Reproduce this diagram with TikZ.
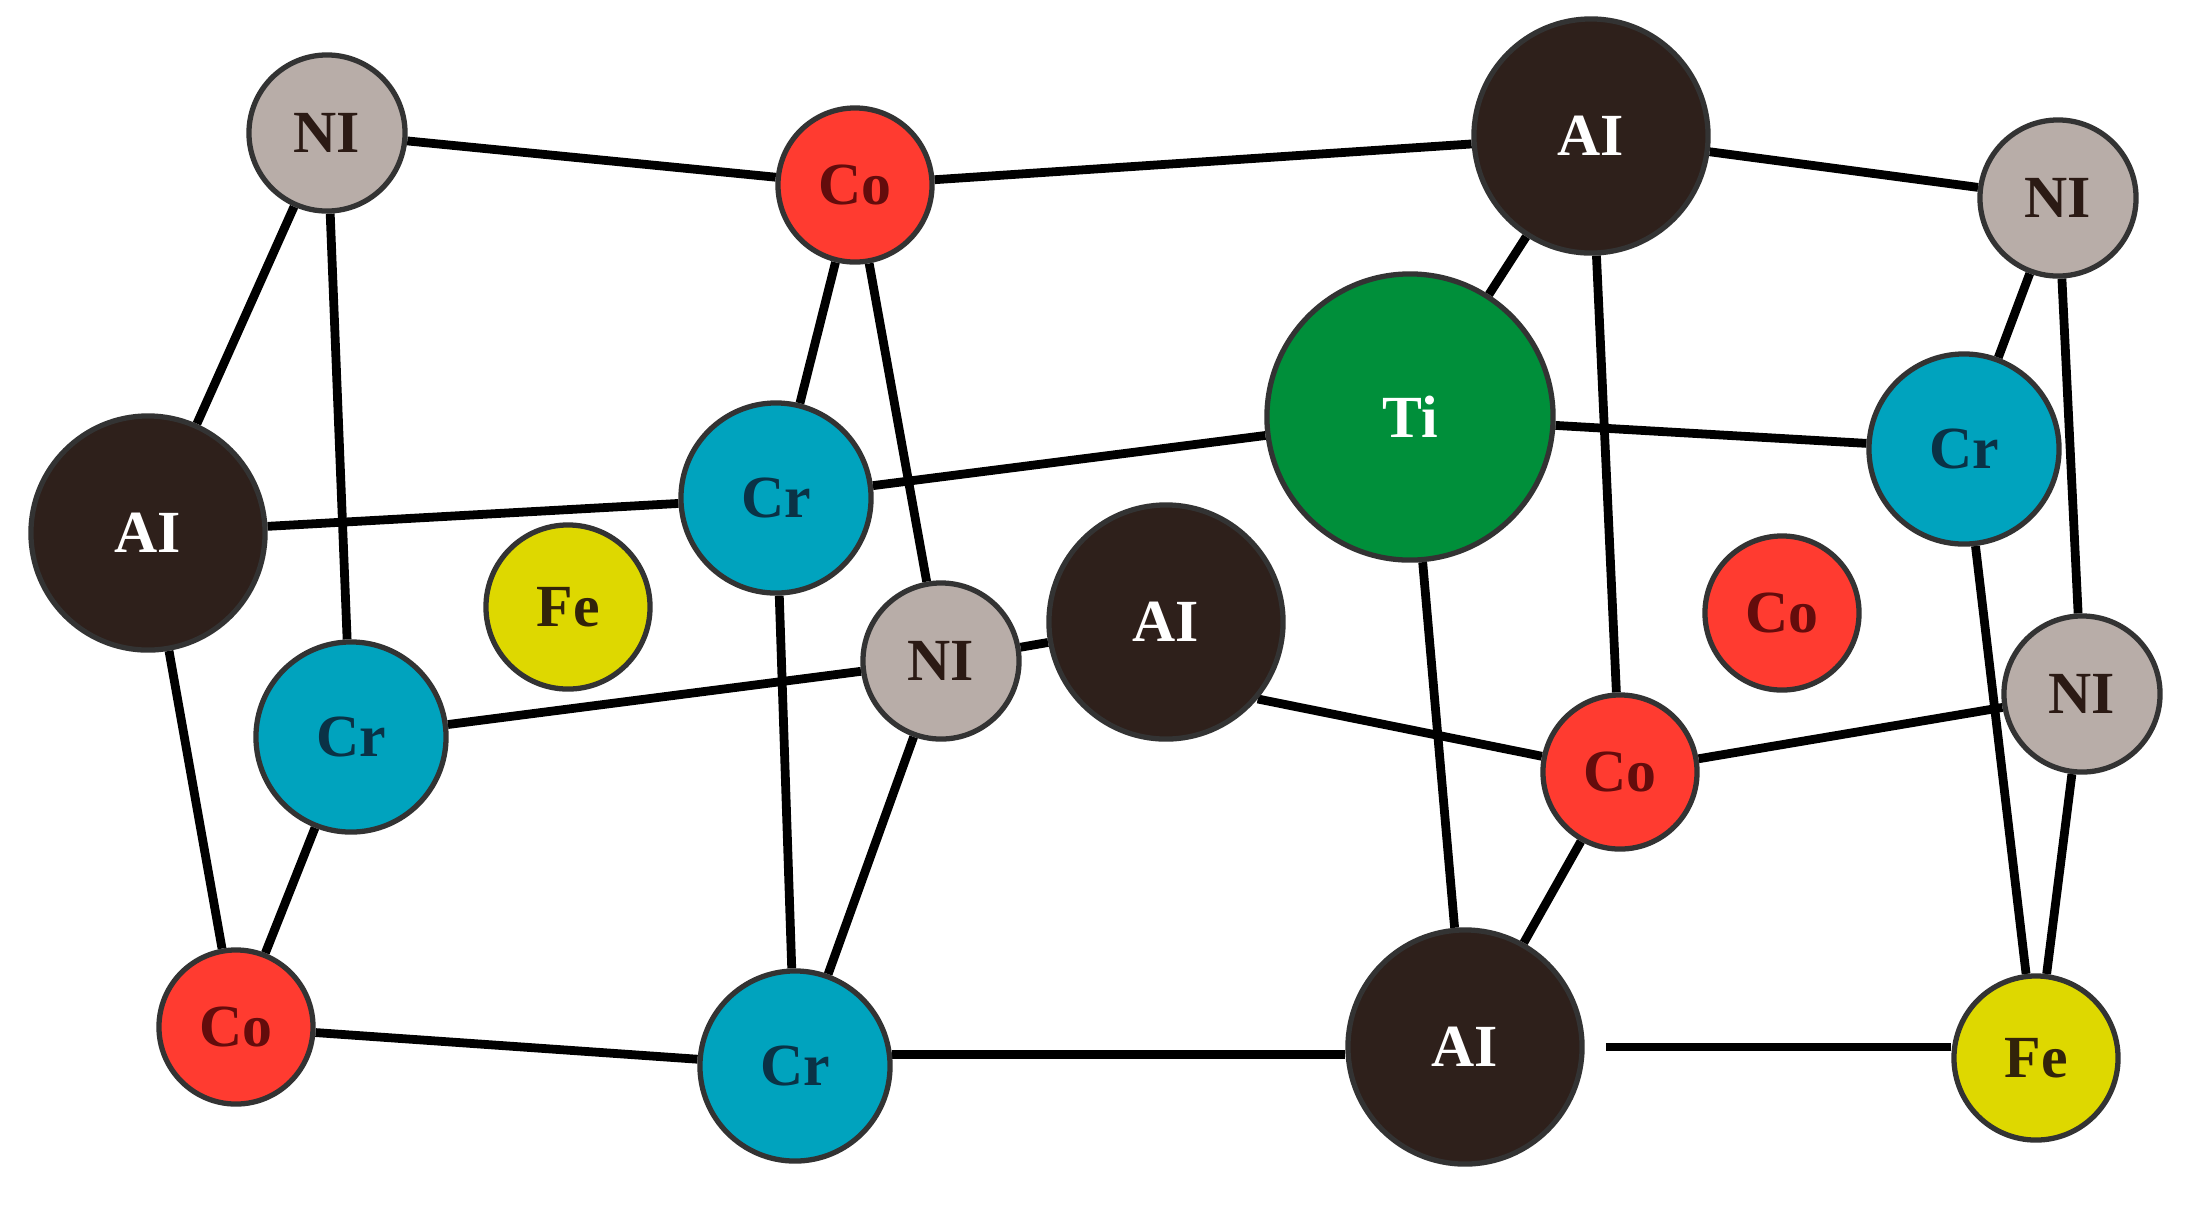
\documentclass[tikz,border=0pt]{standalone}
\usepackage{fontspec}
\setmainfont{Liberation Serif}
\usepackage{tikz}
\usetikzlibrary{backgrounds}

\definecolor{niGray}{RGB}{184,173,168}
\definecolor{coRed}{RGB}{255,59,48}
\definecolor{crCyan}{RGB}{0,163,190}
\definecolor{alBrown}{RGB}{46,32,27}
\definecolor{tiGreen}{RGB}{0,143,58}
\definecolor{feYellow}{RGB}{222,216,0}

\begin{document}
\begin{tikzpicture}[
    x=0.01cm, y=-0.01cm,
    atom/.style={circle, draw=black!80, line width=1.5pt, inner sep=0pt, font=\fontsize{17}{17}\selectfont\bfseries},
    ni/.style={atom, fill=niGray, minimum size=1.56cm, text={rgb,255:red,43;green,26;blue,20}},
    co/.style={atom, fill=coRed, minimum size=1.54cm, text={rgb,255:red,100;green,12;blue,12}},
    cr/.style={atom, fill=crCyan, minimum size=1.9cm, text={rgb,255:red,10;green,50;blue,70}},
    fe/.style={atom, fill=feYellow, minimum size=1.64cm, text={rgb,255:red,50;green,35;blue,10}},
    al/.style={atom, fill=alBrown, minimum size=2.34cm, text=white},
    ti/.style={atom, fill=tiGreen, minimum size=2.86cm, text=white},
    bond/.style={line width=2.5pt, black}
]
    \useasboundingbox (0,0) rectangle (2200,1211);

    % atoms
    \node[ni] (ni1) at (327,133) {NI};
    \node[co] (co1) at (855,185) {Co};
    \node[al] (al1) at (1591,136) {AI};
    \node[ni] (ni2) at (2058,198) {NI};
    \node[al] (al2) at (148,533) {AI};
    \node[cr] (cr1) at (776,498) {Cr};
    \node[ti] (ti) at (1410,417) {Ti};
    \node[cr] (cr2) at (1964,449) {Cr};
    \node[fe] (fe1) at (568,607) {Fe};
    \node[ni] (ni3) at (941,661) {NI};
    \node[al] (al3) at (1166,622) {AI};
    \node[co] (co2) at (1782,613) {Co};
    \node[ni] (ni4) at (2082,694) {NI};
    \node[cr] (cr3) at (351,737) {Cr};
    \node[co] (co3) at (1620,772) {Co};
    \node[co] (co4) at (236,1027) {Co};
    \node[cr] (cr4) at (795,1066) {Cr};
    \node[al] (al4) at (1465,1047) {AI};
    \node[fe] (fe2) at (2036,1058) {Fe};

    % bonds
    \begin{scope}[on background layer]
        \foreach \a/\b in {ni1/co1, co1/al1, al1/ni2, ni1/al2, ni1/cr3, co1/cr1,
                           co1/ni3, al1/ti, al1/co3, ni2/cr2, ni2/ni4, al2/cr1,
                           cr1/ti, ti/cr2, ti/al4, cr2/fe2, al2/co4, cr3/ni3,
                           ni3/al3, co3/ni4, cr3/co4, cr1/cr4, ni3/cr4,
                           co3/al4, ni4/fe2, co4/cr4}
            \draw[bond] (\a) -- (\b);
        \draw[bond] (al3.-40) -- (co3);
        \draw[bond] (cr4.7) -- (cr4.7 -| al4.west);
        \draw[bond, shorten <=6pt] (al4.east) -- (al4.east -| fe2.west);
    \end{scope}
\end{tikzpicture}
\end{document}
